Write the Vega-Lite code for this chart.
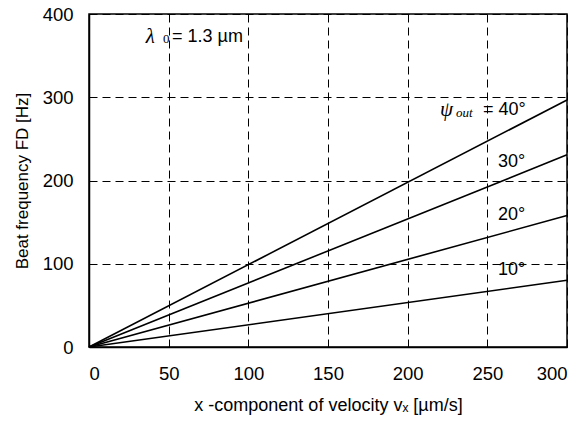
{
  "$schema": "https://vega.github.io/schema/vega-lite/v6.json",
  "width": 478,
  "height": 333,
  "autosize": {"type": "none"},
  "padding": {"left": 89, "top": 14, "right": 16, "bottom": 74},
  "background": "white",
  "config": {
    "font": "Liberation Sans",
    "view": {"stroke": "black", "strokeWidth": 1.5},
    "axis": {
      "domainColor": "black",
      "domainWidth": 1.5,
      "grid": true,
      "gridColor": "black",
      "gridDash": [8, 5],
      "gridWidth": 1,
      "gridOpacity": 1,
      "tickColor": "black",
      "tickSize": -6,
      "labelFont": "Liberation Sans",
      "labelFontSize": 18.5,
      "labelColor": "black",
      "titleFont": "Liberation Sans",
      "titleFontSize": 17,
      "titleFontWeight": "normal",
      "titleColor": "black"
    }
  },
  "datasets": {
    "curves": [
      {"vx": 0, "FD": 0, "psi": "10"},
      {"vx": 300, "FD": 80.1, "psi": "10"},
      {"vx": 0, "FD": 0, "psi": "20"},
      {"vx": 300, "FD": 157.9, "psi": "20"},
      {"vx": 0, "FD": 0, "psi": "30"},
      {"vx": 300, "FD": 230.8, "psi": "30"},
      {"vx": 0, "FD": 0, "psi": "40"},
      {"vx": 300, "FD": 296.7, "psi": "40"}
    ],
    "sansLabels": [
      {"x": 52.1, "y": 372, "label": "= 1.3 µm"},
      {"x": 247.3, "y": 284.7, "label": "= 40°"},
      {"x": 256.7, "y": 222, "label": "30°"},
      {"x": 256.7, "y": 159, "label": "20°"},
      {"x": 256.7, "y": 92.5, "label": "10°"}
    ],
    "serifLabels": [
      {"x": 35.6, "y": 372, "label": "λ"},
      {"x": 220.3, "y": 284.7, "label": "ψ"}
    ],
    "subItalic": [
      {"x": 230.3, "y": 281, "label": "out"}
    ],
    "subUpright": [
      {"x": 46.4, "y": 369.5, "label": "0"}
    ]
  },
  "layer": [
    {
      "data": {"name": "curves"},
      "mark": {"type": "line", "color": "black", "strokeWidth": 1.6},
      "encoding": {
        "x": {
          "field": "vx", "type": "quantitative",
          "scale": {"domain": [0, 300], "nice": false},
          "axis": {
            "values": [0, 50, 100, 150, 200, 250, 300],
            "labelPadding": 23,
            "title": "x -component of velocity vₓ  [µm/s]",
            "titleFontSize": 18,
            "titlePadding": 14
          }
        },
        "y": {
          "field": "FD", "type": "quantitative",
          "scale": {"domain": [0, 400], "nice": false},
          "axis": {
            "values": [0, 100, 200, 300, 400],
            "labelPadding": 22,
            "title": "Beat frequency FD  [Hz]",
            "titlePadding": 11
          }
        },
        "detail": {"field": "psi"}
      }
    },
    {
      "data": {"name": "sansLabels"},
      "mark": {"type": "text", "align": "left", "baseline": "middle", "font": "Liberation Sans", "fontSize": 18, "color": "black"},
      "encoding": {
        "x": {"field": "x", "type": "quantitative"},
        "y": {"field": "y", "type": "quantitative"},
        "text": {"field": "label"}
      }
    },
    {
      "data": {"name": "serifLabels"},
      "mark": {"type": "text", "align": "left", "baseline": "middle", "font": "Liberation Serif", "fontStyle": "italic", "fontSize": 21, "color": "black"},
      "encoding": {
        "x": {"field": "x", "type": "quantitative"},
        "y": {"field": "y", "type": "quantitative"},
        "text": {"field": "label"}
      }
    },
    {
      "data": {"name": "subItalic"},
      "mark": {"type": "text", "align": "left", "baseline": "middle", "font": "Liberation Serif", "fontStyle": "italic", "fontSize": 13, "color": "black"},
      "encoding": {
        "x": {"field": "x", "type": "quantitative"},
        "y": {"field": "y", "type": "quantitative"},
        "text": {"field": "label"}
      }
    },
    {
      "data": {"name": "subUpright"},
      "mark": {"type": "text", "align": "left", "baseline": "middle", "font": "Liberation Serif", "fontSize": 13, "color": "black"},
      "encoding": {
        "x": {"field": "x", "type": "quantitative"},
        "y": {"field": "y", "type": "quantitative"},
        "text": {"field": "label"}
      }
    }
  ]
}
